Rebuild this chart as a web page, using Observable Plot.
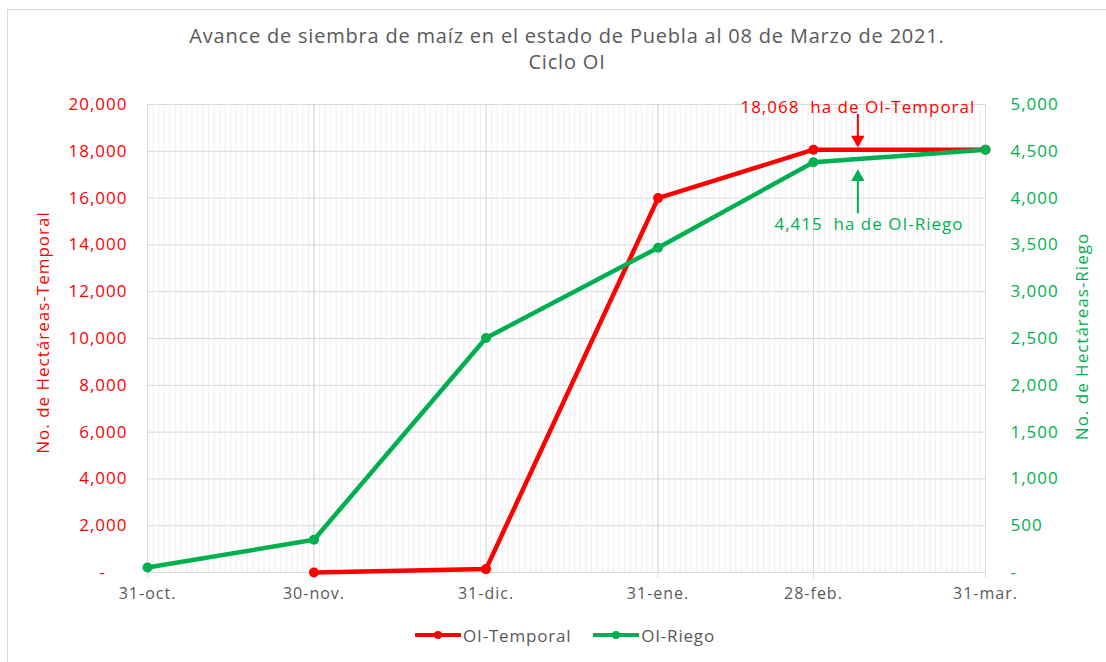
<!DOCTYPE html>
<html><head><meta charset="utf-8">
<script src="https://cdn.jsdelivr.net/npm/d3@7"></script>
<script src="https://cdn.jsdelivr.net/npm/@observablehq/plot@0.6"></script>
<style>
body{margin:0;background:#fff;font-family:"Open Sans",sans-serif;overflow:hidden;}
#frame{position:absolute;left:7px;top:9px;width:1120px;height:680px;border:1px solid #d9d9d9;}
#title{position:absolute;left:0;width:1134px;top:23px;text-align:center;color:#595959;font-size:20px;line-height:26px;letter-spacing:0.8px;}
#chart{position:absolute;left:0;top:80px;}
#legend{position:absolute;top:623px;left:0;width:1130px;text-align:center;color:#595959;font-size:17px;letter-spacing:0.8px;}
#legend span.item{display:inline-flex;align-items:center;margin:0 11px;}
#legend svg{margin-right:2px;}
</style>
</head><body>
<div id="frame"></div>
<div id="title">Avance de siembra de maíz en el estado de Puebla al 08 de Marzo de 2021.<br>Ciclo OI</div>
<div id="chart"></div>
<div id="legend"></div>
<script>
// ---- data ----
const dates = ["2020-10-31","2020-11-30","2020-12-31","2021-01-31","2021-02-28","2021-03-31"];
const dateLabels = ["31-oct.","30-nov.","31-dic.","31-ene.","28-feb.","31-mar."];
const temporal = [null, 0, 145, 16000, 18068, 18068];
const riego = [53, 350, 2505, 3470, 4383, 4517];
const leftTicks = [0,2000,4000,6000,8000,10000,12000,14000,16000,18000,20000];
const rightTicks = [0,500,1000,1500,2000,2500,3000,3500,4000,4500,5000];
const seriesNames = ["OI-Temporal","OI-Riego"];
const axisTitles = ["No. de Hectáreas-Temporal","No. de Hectáreas-Riego"];
const colors = ["#ff0000","#00b050"];
const annotTexts = ["18,068  ha de OI-Temporal","4,415  ha de OI-Riego"];
const annotDates = ["2021-03-08","2021-03-10"];
const annotValues = [19870, 14870];
const arrowDate = "2021-03-08";
const redArrow = [19570, 18500];
const greenArrow = [15330, 16900];

const ratio = 20000/5000;
const parse = d => new Date(d + "T00:00:00Z");
const tData = dates.map((d,i)=>({date:parse(d), v:temporal[i]})).filter(d=>d.v!=null);
const rData = dates.map((d,i)=>({date:parse(d), v:riego[i]*ratio}));
const majors = dates.map(parse);
const minors = d3.utcDay.range(parse(dates[0]), parse(dates[dates.length-1]));
const fmt = d3.format(",");

const plot = Plot.plot({
  width: 1106, height: 540,
  marginLeft: 147, marginRight: 121, marginTop: 24, marginBottom: 48,
  style: {fontFamily: '"Open Sans", sans-serif', fontSize: "17px", letterSpacing: "1px", background: "transparent"},
  x: {type: "utc", domain: [majors[0], majors[majors.length-1]]},
  y: {domain: [0, 20000]},
  marks: [
    Plot.ruleX(minors, {stroke: "#efefef", strokeWidth: 1}),
    Plot.ruleY(leftTicks, {stroke: "#d9d9d9", strokeWidth: 1}),
    Plot.ruleX(majors, {y1: -260, y2: 20000, stroke: "#d9d9d9", strokeWidth: 1}),
    Plot.axisX({ticks: majors, tickSize: 0, tickPadding: 15, fill: "#595959", fontSize: 16, label: null, style: {letterSpacing: "0.6px"},
      tickFormat: d => dateLabels[majors.findIndex(m => +m === +d)]}),
    Plot.axisY({ticks: leftTicks, tickSize: 0, tickPadding: 20, fill: "#ff0000", fontSize: 17, label: null,
      tickFormat: d => d === 0 ? "-\u2007\u2007" : fmt(d)}),
    Plot.axisY({anchor: "right", ticks: leftTicks, tickSize: 0, tickPadding: 25, fill: "#00b050", fontSize: 17, label: null,
      tickFormat: (d,i) => rightTicks[i] === 0 ? "-" : fmt(rightTicks[i])}),
    Plot.text([axisTitles[0]], {text: d => d, frameAnchor: "left", textAnchor: "middle", dx: -104, dy: -6, rotate: -90, fill: colors[0], fontSize: 17}),
    Plot.text([axisTitles[1]], {text: d => d, frameAnchor: "right", textAnchor: "middle", dx: 97, dy: -2, rotate: -90, fill: colors[1], fontSize: 17}),
    Plot.line(tData, {x: "date", y: "v", stroke: colors[0], strokeWidth: 4.5}),
    Plot.line(rData, {x: "date", y: "v", stroke: colors[1], strokeWidth: 4.5}),
    Plot.dot(tData, {x: "date", y: "v", fill: colors[0], r: 5}),
    Plot.dot(rData, {x: "date", y: "v", fill: colors[1], r: 5}),
    Plot.text(annotTexts, {x: (d,i) => parse(annotDates[i]), y: (d,i) => annotValues[i], text: d => d, fill: (d,i) => colors[i], fontSize: 17, style: {letterSpacing: "0.7px"}}),
    Plot.ruleX([arrowDate], {x: d => parse(d), y1: redArrow[0], y2: redArrow[1], stroke: colors[0], strokeWidth: 2}),
    Plot.dot([arrowDate], {x: d => parse(d), y: redArrow[1], symbol: "triangle", r: 5, rotate: 180, fill: colors[0], stroke: "none"}),
    Plot.ruleX([arrowDate], {x: d => parse(d), y1: greenArrow[0], y2: greenArrow[1], stroke: colors[1], strokeWidth: 2}),
    Plot.dot([arrowDate], {x: d => parse(d), y: greenArrow[1], symbol: "triangle", r: 5, fill: colors[1], stroke: "none"})
  ]
});
document.getElementById("chart").appendChild(plot);

const leg = document.getElementById("legend");
seriesNames.forEach((n,i) => {
  const s = document.createElement("span");
  s.className = "item";
  s.innerHTML = `<svg width="46" height="12"><line x1="1" y1="6" x2="45" y2="6" stroke="${colors[i]}" stroke-width="4" stroke-linecap="round"/><circle cx="23" cy="6" r="4" fill="${colors[i]}"/></svg>${n}`;
  leg.appendChild(s);
});
</script>
</body></html>
